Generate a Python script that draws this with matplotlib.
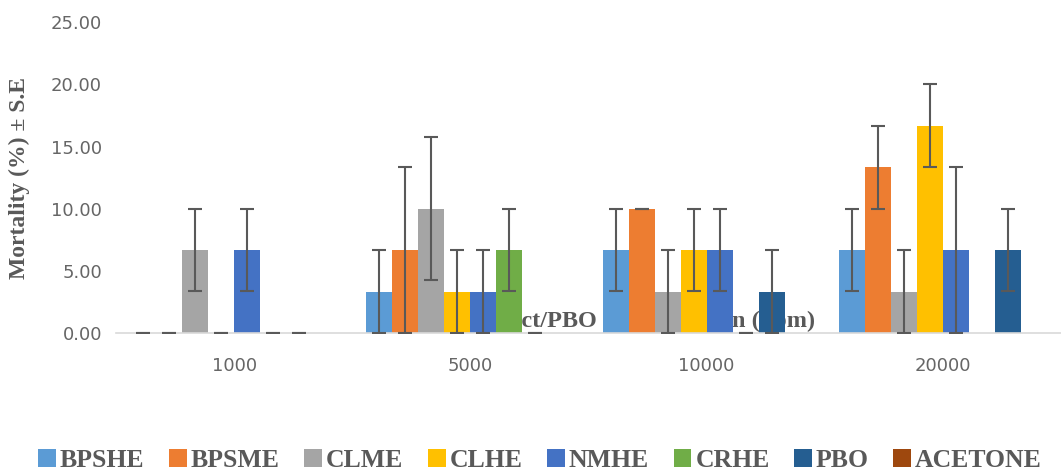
import numpy as np
import matplotlib
matplotlib.use("Agg")
import matplotlib.pyplot as plt

nan = np.nan
groups = ["1000", "5000", "10000", "20000"]
series = ["BPSHE", "BPSME", "CLME", "CLHE", "NMHE", "CRHE", "PBO", "ACETONE"]
colors = ["#5B9BD5", "#ED7D31", "#A5A5A5", "#FFC000", "#4472C4", "#70AD47", "#255E91", "#9E480E"]

means = {
    "BPSHE":   [0.00, 3.33, 6.67, 6.67],
    "BPSME":   [0.00, 6.67, 10.00, 13.33],
    "CLME":    [6.67, 10.00, 3.33, 3.33],
    "CLHE":    [0.00, 3.33, 6.67, 16.67],
    "NMHE":    [6.67, 3.33, 6.67, 6.67],
    "CRHE":    [0.00, 6.67, 0.00, nan],
    "PBO":     [0.00, 0.00, 3.33, 6.67],
    "ACETONE": [nan, nan, nan, nan],
}
errs = {
    "BPSHE":   [0.00, 3.33, 3.33, 3.33],
    "BPSME":   [0.00, 6.67, 0.00, 3.33],
    "CLME":    [3.33, 5.77, 3.33, 3.33],
    "CLHE":    [0.00, 3.33, 3.33, 3.33],
    "NMHE":    [3.33, 3.33, 3.33, 6.67],
    "CRHE":    [0.00, 3.33, 0.00, nan],
    "PBO":     [0.00, 0.00, 3.33, 3.33],
    "ACETONE": [nan, nan, nan, nan],
}

fig = plt.figure(figsize=(10.61, 4.72), dpi=100)
ax = fig.add_axes([116 / 1061, 0.2945, 945 / 1061, 0.6585])

x = np.arange(len(groups))
w = 0.110
n = len(series)

# axis title sits behind the bars, like in the original
ax.text(2.46, 0.48, "Extract/PBO concentration (ppm)", ha="right", va="baseline",
        fontsize=17.5, fontweight="bold", family="Liberation Serif", color="#595959", zorder=0)

for i, s in enumerate(series):
    pos = x + (i - (n - 1) / 2) * w
    ax.bar(pos, means[s], width=w, color=colors[i], label=s, zorder=2)
    ax.errorbar(pos, means[s], yerr=errs[s], fmt="none", ecolor="#595959",
                elinewidth=1.5, capsize=4.7, capthick=1.5, zorder=3)

ax.set_xlim(-0.5, 3.5)
ax.set_ylim(0, 25)
ax.set_yticks(np.arange(0, 26, 5))
ax.set_yticklabels([f"{v:.2f}" for v in np.arange(0, 26, 5)])
ax.set_xticks(x)
ax.set_xticklabels(groups)
ax.tick_params(axis="both", length=0, labelsize=13, labelcolor="#666666")
ax.tick_params(axis="x", pad=17)
ax.tick_params(axis="y", pad=10)
for lbl in ax.get_xticklabels() + ax.get_yticklabels():
    lbl.set_family("DejaVu Sans")

for sp in ["top", "right", "left"]:
    ax.spines[sp].set_visible(False)
ax.spines["bottom"].set_color("#D9D9D9")
ax.spines["bottom"].set_linewidth(1.2)

ax.set_ylabel("Mortality (%) \u00b1 S.E", fontsize=17, fontweight="bold",
              family="Liberation Serif", color="#595959")
ax.yaxis.set_label_coords(-0.091, 0.5)

leg = fig.legend(loc="lower center", bbox_to_anchor=(0.509, -0.05), ncol=8, frameon=False,
                 prop={"family": "Liberation Serif", "weight": "bold", "size": 18.5},
                 handlelength=0.7, handleheight=0.7, handletextpad=0.15, columnspacing=0.95)
for t in leg.get_texts():
    t.set_color("#595959")

fig.savefig("out.png", dpi=100)
